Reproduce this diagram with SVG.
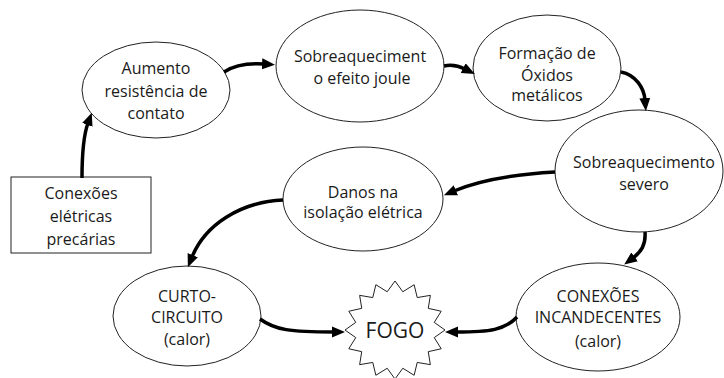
<svg xmlns="http://www.w3.org/2000/svg" width="724" height="378" viewBox="0 0 724 378">
<defs>
<style>
.n{fill:#fff;stroke:#222;stroke-width:1}
.t{font-family:"Open Sans","Noto Sans",sans-serif;font-size:16px;fill:#1a1a1a;text-anchor:middle}
.c{fill:none;stroke:#000;stroke-width:3.5;marker-end:url(#ah)}
</style>
<marker id="ah" markerUnits="userSpaceOnUse" markerWidth="14" markerHeight="12" refX="2" refY="5.5" orient="auto" viewBox="0 0 14 11">
<path d="M0,0 L13,5.5 L0,11 z" fill="#000"/>
</marker>
</defs>
<rect width="724" height="378" fill="#fff"/>
<g id="conexoes-precarias">
<rect class="n" x="11" y="177" width="140" height="76"/>
<text class="t" x="81" y="199">Conexões</text>
<text class="t" x="81" y="222">elétricas</text>
<text class="t" x="81" y="245">precárias</text>
</g>
<g id="aumento">
<ellipse class="n" cx="156" cy="90" rx="74" ry="48"/>
<text class="t" x="156" y="74">Aumento</text>
<text class="t" x="156" y="97">resistência de</text>
<text class="t" x="156" y="119">contato</text>
</g>
<g id="sobreaquecimento-joule">
<ellipse class="n" cx="360" cy="66" rx="84" ry="56"/>
<text class="t" x="360" y="62">Sobreaqueciment</text>
<text class="t" x="362" y="84">o efeito joule</text>
</g>
<g id="oxidos">
<ellipse class="n" cx="547" cy="68" rx="74" ry="53"/>
<text class="t" x="547" y="59">Formação de</text>
<text class="t" x="547" y="81">Óxidos</text>
<text class="t" x="547" y="101">metálicos</text>
</g>
<g id="sobreaquecimento-severo">
<ellipse class="n" cx="639" cy="171" rx="84" ry="61"/>
<text class="t" x="644" y="168">Sobreaquecimento</text>
<text class="t" x="644" y="190">severo</text>
</g>
<g id="danos-isolacao">
<ellipse class="n" cx="363" cy="199" rx="80" ry="52"/>
<text class="t" x="363" y="198">Danos na</text>
<text class="t" x="363" y="218">isolação elétrica</text>
</g>
<g id="curto-circuito">
<ellipse class="n" cx="187" cy="316" rx="74" ry="50"/>
<text class="t" x="187" y="302">CURTO-</text>
<text class="t" x="187" y="323">CIRCUITO</text>
<text class="t" x="187" y="345">(calor)</text>
</g>
<g id="conexoes-incandecentes">
<ellipse class="n" cx="598" cy="317" rx="82" ry="54"/>
<text class="t" x="598" y="302">CONEXÕES</text>
<text class="t" x="598" y="323">INCANDECENTES</text>
<text class="t" x="598" y="347">(calor)</text>
</g>
<g id="fogo">
<polygon class="n" transform="translate(395,330)" points="50,0 39.23,7.61 46.19,18.75 33.26,21.67 35.36,34.65 22.22,32.43 19.13,45.27 7.8,38.25 0,49 -7.8,38.25 -19.13,45.27 -22.22,32.43 -35.36,34.65 -33.26,21.67 -46.19,18.75 -39.23,7.61 -50,0 -39.23,-7.61 -46.19,-18.75 -33.26,-21.67 -35.36,-34.65 -22.22,-32.43 -19.13,-45.27 -7.8,-38.25 0,-49 7.8,-38.25 19.13,-45.27 22.22,-32.43 35.36,-34.65 33.26,-21.67 46.19,-18.75 39.23,-7.61"/>
<text class="t" x="395" y="338" style="font-size:21px">FOGO</text>
</g>
<g id="connectors">
<path class="c" d="M82,178 C82,150 84,134 88,123"/>
<path class="c" d="M224,72 C236,64 250,63 264,64"/>
<path class="c" d="M444,66 C453,64 459,66 465,69"/>
<path class="c" d="M621,72 C636,75 644,88 645,100"/>
<path class="c" d="M555,172 C520,174 480,180 454,191"/>
<path class="c" d="M283,200 C240,202 205,225 192,257"/>
<path class="c" d="M645,232 C646,245 641,252 633,258"/>
<path class="c" d="M260,319 C275,330 290,332 334,332"/>
<path class="c" d="M517,317 C505,330 490,332 456,332"/>
</g>
</svg>
